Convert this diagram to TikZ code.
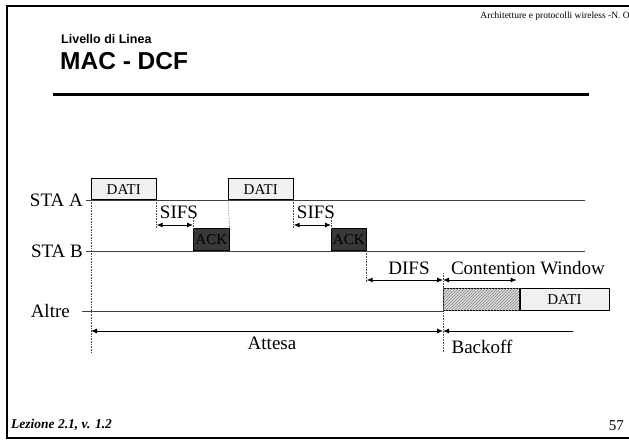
\documentclass[tikz,border=0pt]{standalone}
\usepackage{fontspec}
\setmainfont{Liberation Serif}
\newfontfamily\headfont{Liberation Sans}
\usetikzlibrary{arrows.meta, positioning, patterns}

\begin{document}
\begin{tikzpicture}[
    x=1pt, y=-1pt,
    lbl/.style={font=\fontsize{19}{21}\selectfont, inner sep=0pt},
    slot/.style={draw, line width=0.6pt, minimum height=21pt, inner sep=0pt,
                 anchor=south west, font=\fontsize{15}{17}\selectfont},
    dati/.style={slot, fill=black!6},
    ack/.style={slot, fill=black!78, text=black, minimum height=22pt},
    tline/.style={black!75, line width=0.9pt},
    vdot/.style={densely dotted, black!70, line width=0.6pt},
    ar/.style={-{Latex[length=6pt,width=5pt]}, line width=0.9pt},
    dar/.style={{Latex[length=6pt,width=5pt]}-{Latex[length=6pt,width=5pt]}, line width=0.9pt}
]
\useasboundingbox (0,0) rectangle (629,441);
% slide frame and header
\draw[line width=2.2pt] (629,6) -- (7,6) -- (7,438) -- (629,438);
\node[anchor=east, inner sep=0pt, font=\fontsize{9.5}{11}\selectfont] (hdr) at (630,16)
     {Architetture e protocolli wireless -N. O};
\node[anchor=west, inner sep=0pt, font=\headfont\bfseries\fontsize{12.5}{14}\selectfont] (sub) at (61,39) {Livello di Linea};
\node[anchor=west, inner sep=0pt, font=\headfont\bfseries\fontsize{24.5}{28}\selectfont] (ttl) at (60,61) {MAC - DCF};
\draw[line width=3pt] (53,95) -- (589,95);
\node[anchor=west, inner sep=0pt, font=\bfseries\itshape\fontsize{13.5}{15}\selectfont] (lez) at (11,425) {Lezione 2.1, v. 1.2};
\node[anchor=east, inner sep=0pt, font=\fontsize{15}{17}\selectfont] (pg) at (624,426) {57};

% stations and time lines
\node[lbl, anchor=east] (staA)  at (83,200) {STA A};
\node[lbl, anchor=east] (staB)  at (83,251) {STA B};
\node[lbl, anchor=east] (altre) at (70,311) {Altre};
\coordinate (endA) at (585,200);
\coordinate (endB) at (585,251);
\coordinate (endC) at (443,311);
\draw[tline] ([xshift=3pt]staA.east) -- (endA);
\draw[tline] ([xshift=3pt]staB.east) -- (endB);
\draw[tline] ([xshift=12pt]altre.east) -- (endC);

% frames
\node[dati, minimum width=65pt] (d1) at (91,200) {DATI};
\node[ack,  minimum width=36pt] (k1) at (193,251) {ACK};
\node[dati, minimum width=65pt] (d2) at (228,200) {DATI};
\node[ack,  minimum width=35pt] (k2) at (331,251) {ACK};
\node[slot, minimum width=76pt, minimum height=22pt, fill=black!15,
      postaction={pattern=north east lines, pattern color=black!45}] (bo) at (endC) {};
\node[dati, minimum width=89pt, minimum height=22pt, right=0pt of bo] (d3) {DATI};

% helper levels
\coordinate (ySifs) at (0,225);
\coordinate (yDifs) at (0,280);
\coordinate (yAtt)  at (0,331);
\coordinate (yBot)  at (0,353);
\coordinate (bkEnd) at (573,331);

% dotted guides
\draw[vdot] (d1.south west) -- (d1.south west |- yBot);
\draw[vdot] (bo.north west |- 0,273) -- (bo.north west |- yBot);
\foreach \n in {d1,d2}
   \draw[vdot] (\n.south east) -- ([yshift=-3pt]\n.south east |- ySifs);
\foreach \n in {k1,k2}
   \draw[vdot] (\n.north west) -- ([yshift=8pt]\n.north west |- ySifs);
\draw[vdot] (k1.north east) -- (d2.south west);
\draw[vdot] (k2.south east) -- ([yshift=-3pt]k2.south east |- yDifs);

% intervals
\draw[dar] (d1.south east |- ySifs) -- (k1.north west |- ySifs);
\draw[dar] (d2.south east |- ySifs) -- (k2.north west |- ySifs);
\draw[dar] (k2.south east |- yDifs) -- (bo.north west |- yDifs);
\draw[dar] (bo.north west |- yDifs) -- ([xshift=-3pt]bo.north east |- yDifs);
\draw[dar] (d1.south west |- yAtt) -- (bo.north west |- yAtt);
\draw[ar] (bkEnd) -- (bo.north west |- yAtt);

% labels
\node[lbl] (sifs1) at (179,212) {SIFS};
\node[lbl] (sifs2) at (316,212) {SIFS};
\node[lbl] (difs)  at (409,268) {DIFS};
\node[lbl] (cwin)  at (528,268) {Contention Window};
\node[lbl] (att)   at (272,343) {Attesa};
\node[lbl] (bkf)   at (482,347) {Backoff};
\end{tikzpicture}
\end{document}
